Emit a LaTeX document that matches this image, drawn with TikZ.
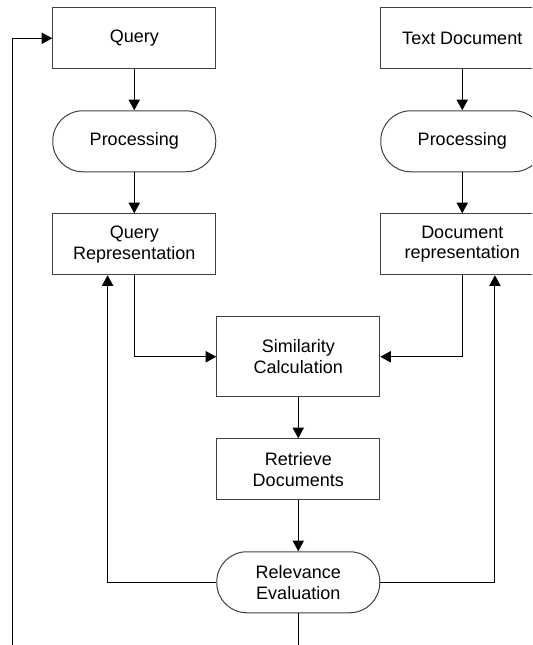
\documentclass[tikz,border=0pt]{standalone}
\usepackage{fontspec}
\setmainfont{Liberation Sans}
\usetikzlibrary{arrows.meta}

\begin{document}
\begin{tikzpicture}[
  font=\fontsize{13.5}{15.5}\selectfont,
  every matrix/.style={ampersand replacement=\&,column sep=0pt,row sep=30.75pt,inner sep=0pt},
  block/.style={draw=black!75,line width=0.75pt,minimum width=122.25pt,minimum height=45.75pt,inner sep=2pt},
  terminal/.style={block,rounded corners=22.5pt},
  tall/.style={block,minimum height=60pt},
  to/.style={-{Triangle[width=8.5pt,length=8pt]},line width=0.75pt},
  line/.style={line width=0.75pt},
  every node/.style={align=center}]

  \useasboundingbox (0,0) rectangle (399pt,-483.75pt);
  \clip (0,0) rectangle (399pt,-483.75pt);

  % Position the nodes using a matrix layout
  \matrix at (39pt,-5.25pt) [anchor=north west] {
    \node[block] (query) {Query};
      \& \& \node[block] (textdoc) {Text Document};\\
    \node[terminal] (procq) {Processing};
      \& \& \node[terminal] (procd) {Processing};\\
    \node[block] (qrep) {Query\\Representation};
      \& \& \node[block] (drep) {Document\\representation};\\
    \& \node[tall] (simcalc) {Similarity\\Calculation}; \& \\
    \& \node[block] (retrieve) {Retrieve\\Documents}; \& \\[7.5pt]
    \& \node[terminal] (releval) {Relevance\\Evaluation}; \& \\
  };

  % Feedback loop runs below the page edge
  \coordinate (fb) at (9pt,-495pt);

  % Draw the arrows between the nodes
  \draw[to] (query) -- (procq);
  \draw[to] (procq) -- (qrep);
  \draw[to] (textdoc) -- (procd);
  \draw[to] (procd) -- (drep);
  \draw[to] (qrep) |- (simcalc);
  \draw[to] (drep) |- (simcalc);
  \draw[to] (simcalc) -- (retrieve);
  \draw[to] (retrieve) -- (releval);
  \draw[to] (releval.west) -| ([xshift=-20pt]qrep.south);
  \draw[to] (releval.east) -| ([xshift=24.5pt]drep.south);
  \draw[to] (releval.south) |- (fb) |- (query.west);
\end{tikzpicture}
\end{document}
